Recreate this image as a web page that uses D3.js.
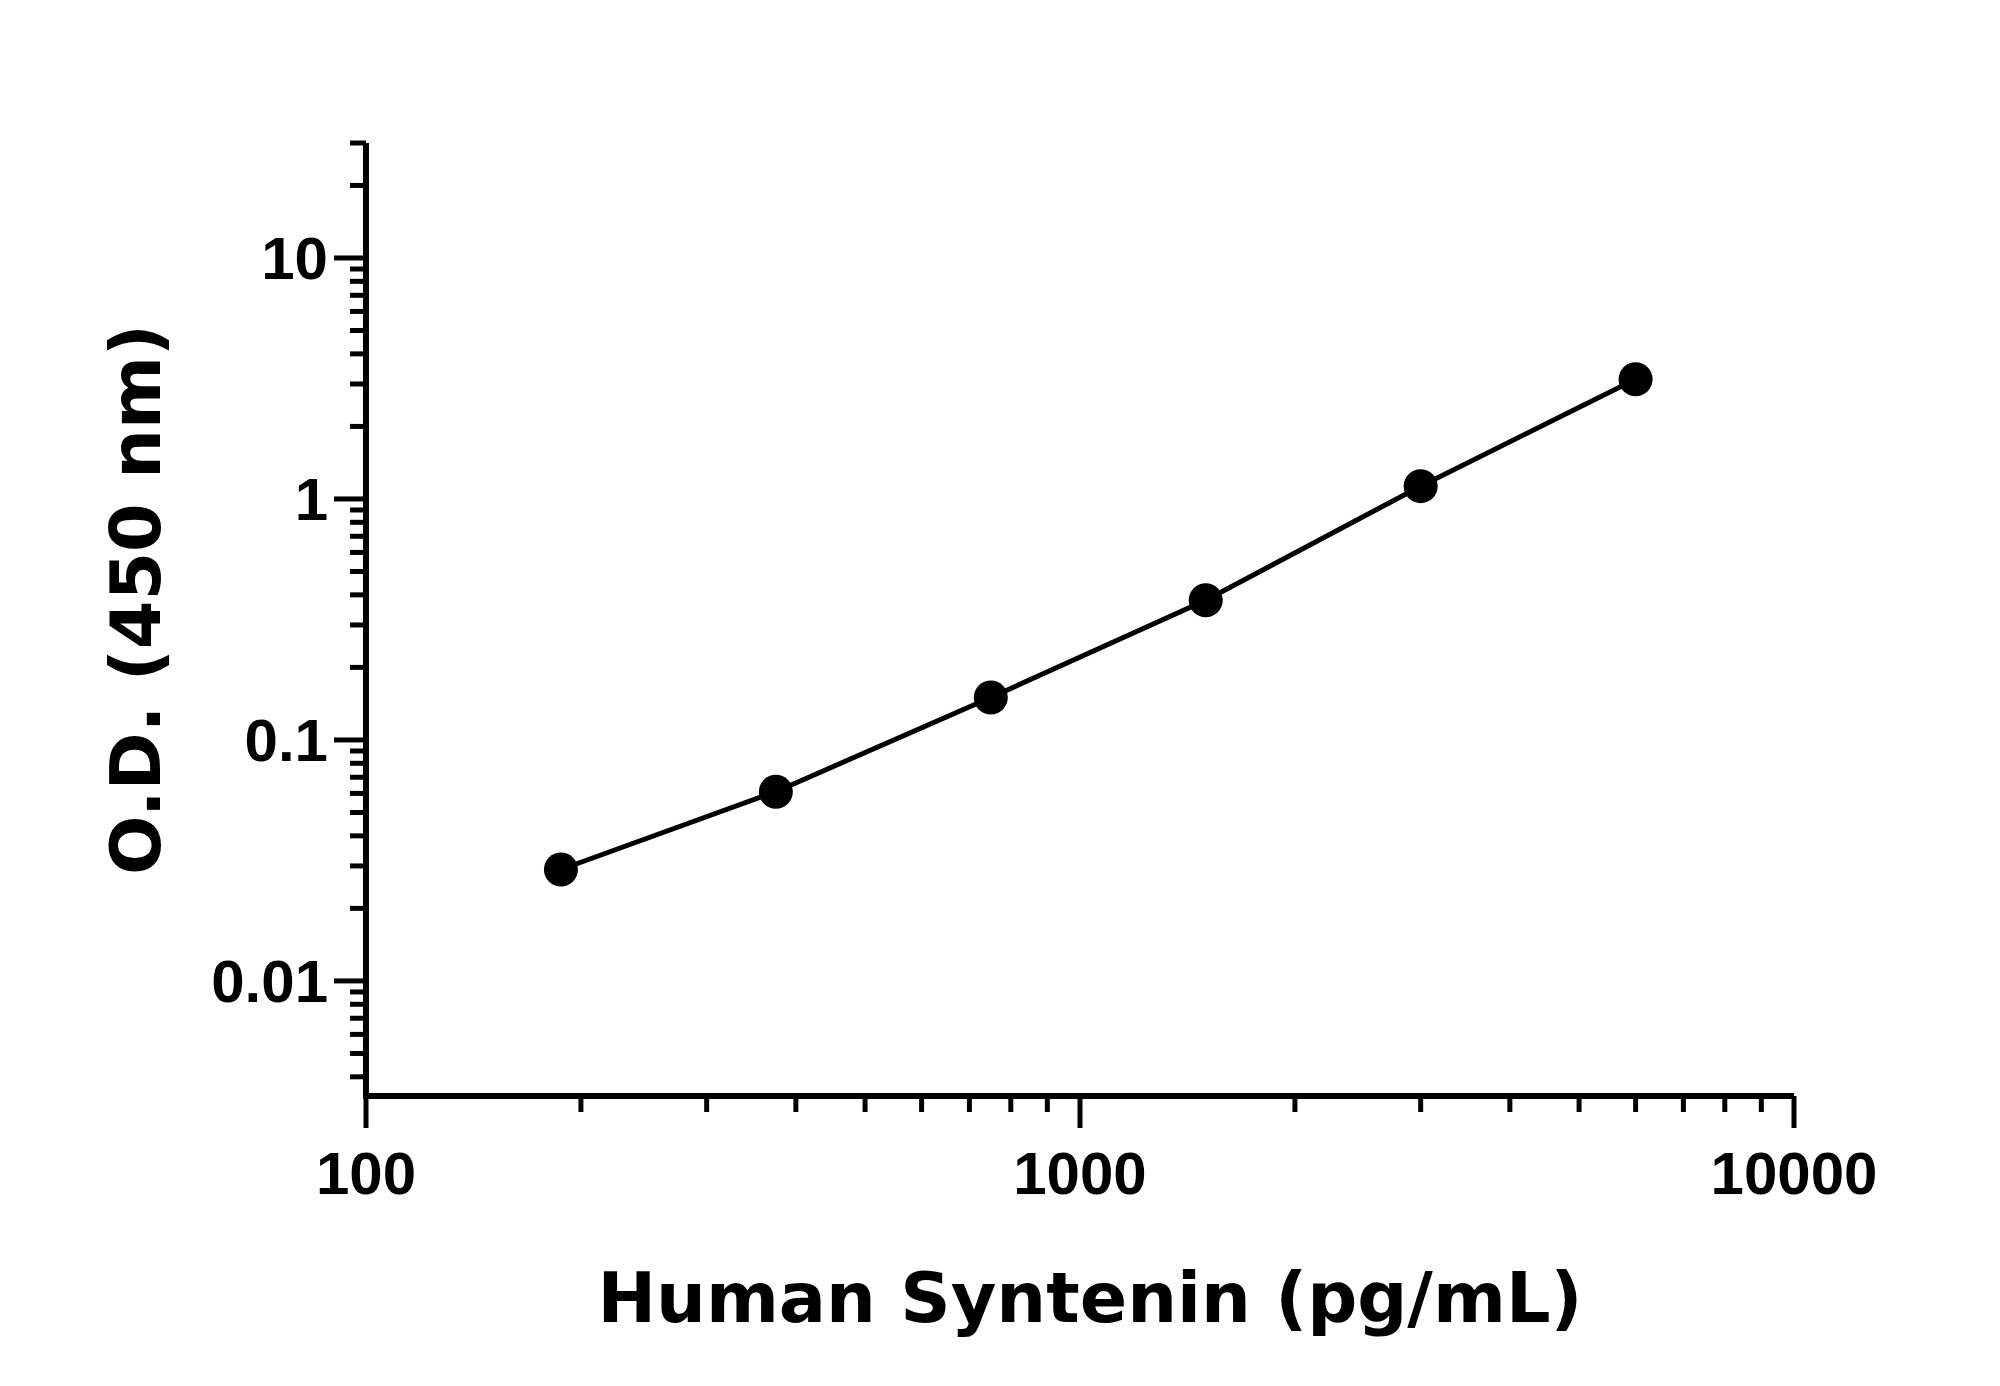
<!DOCTYPE html>
<html><head><meta charset="utf-8">
<script src="https://cdn.jsdelivr.net/npm/d3@7"></script>
<style>body{margin:0;background:#fff}</style></head>
<body><svg id="c" width="2000" height="1386"></svg>
<script>
const concentrations=[187.5,375,750,1500,3000,6000];
const od=[0.029,0.061,0.15,0.38,1.13,3.14];
const xTickLabels=[100,1000,10000];
const yTickLabels=[0.01,0.1,1,10];
const svg=d3.select("#c");
const L=366,R=1794,T=143,B=1096;
const x=d3.scaleLog().domain([100,10000]).range([L,R]);
const y=d3.scaleLog().domain([0.00333,30]).range([B,T]);
const g=svg.append("g");
const xMinor=[];for(let d=100;d<10000;d*=10)for(let k=2;k<=9;k++)xMinor.push(d*k);
g.selectAll(".xm").data(xMinor).enter().append("line").attr("x1",d=>x(d)).attr("x2",d=>x(d)).attr("y1",B).attr("y2",B+16).attr("stroke","#000").attr("stroke-width",5);
g.selectAll(".xM").data(xTickLabels).enter().append("line").attr("x1",d=>x(d)).attr("x2",d=>x(d)).attr("y1",B).attr("y2",B+32).attr("stroke","#000").attr("stroke-width",5);
const yMinor=[];for(let d=0.001;d<30;d*=10)for(let k=2;k<=9;k++){const v=d*k;if(v>=0.0034&&v<=30)yMinor.push(v);}
g.selectAll(".ym").data(yMinor).enter().append("line").attr("y1",d=>y(d)).attr("y2",d=>y(d)).attr("x1",L).attr("x2",L-16).attr("stroke","#000").attr("stroke-width",5);
g.selectAll(".yM").data(yTickLabels).enter().append("line").attr("y1",d=>y(d)).attr("y2",d=>y(d)).attr("x1",L).attr("x2",L-32).attr("stroke","#000").attr("stroke-width",5);
g.append("line").attr("x1",L).attr("x2",L).attr("y1",T).attr("y2",B+2).attr("stroke","#000").attr("stroke-width",6);
g.append("line").attr("x1",L-3).attr("x2",R).attr("y1",B).attr("y2",B).attr("stroke","#000").attr("stroke-width",6);
const ff="'Liberation Sans Narrow','Liberation Sans',Arial,sans-serif";
g.selectAll(".xl").data(xTickLabels).enter().append("text").attr("x",d=>x(d)).attr("y",B+98).attr("text-anchor","middle")
 .attr("font-family",ff).attr("font-weight","bold").attr("font-size",60).text(d=>d);
g.selectAll(".yl").data(yTickLabels).enter().append("text").attr("x",L-38).attr("y",d=>y(d)+21).attr("text-anchor","end")
 .attr("font-family",ff).attr("font-weight","bold").attr("font-size",60).text(d=>d);
const tf="'DejaVu Sans',sans-serif";
svg.append("text").attr("x",(L+R)/2+10).attr("y",1322).attr("text-anchor","middle").attr("font-family",tf).attr("font-weight","bold").attr("font-size",70).text("Human Syntenin (pg/mL)");
svg.append("text").attr("transform",`translate(160,${(T+B)/2-20}) rotate(-90)`).attr("text-anchor","middle").attr("font-family",tf).attr("font-weight","bold").attr("font-size",70).text("O.D. (450 nm)");
const pts=concentrations.map((c,i)=>[c,od[i]]);
svg.append("path").datum(pts).attr("d",d3.line().x(d=>x(d[0])).y(d=>y(d[1]))).attr("fill","none").attr("stroke","#000").attr("stroke-width",5);
svg.selectAll(".p").data(pts).enter().append("circle").attr("cx",d=>x(d[0])).attr("cy",d=>y(d[1])).attr("r",17).attr("fill","#000");
</script></body></html>
